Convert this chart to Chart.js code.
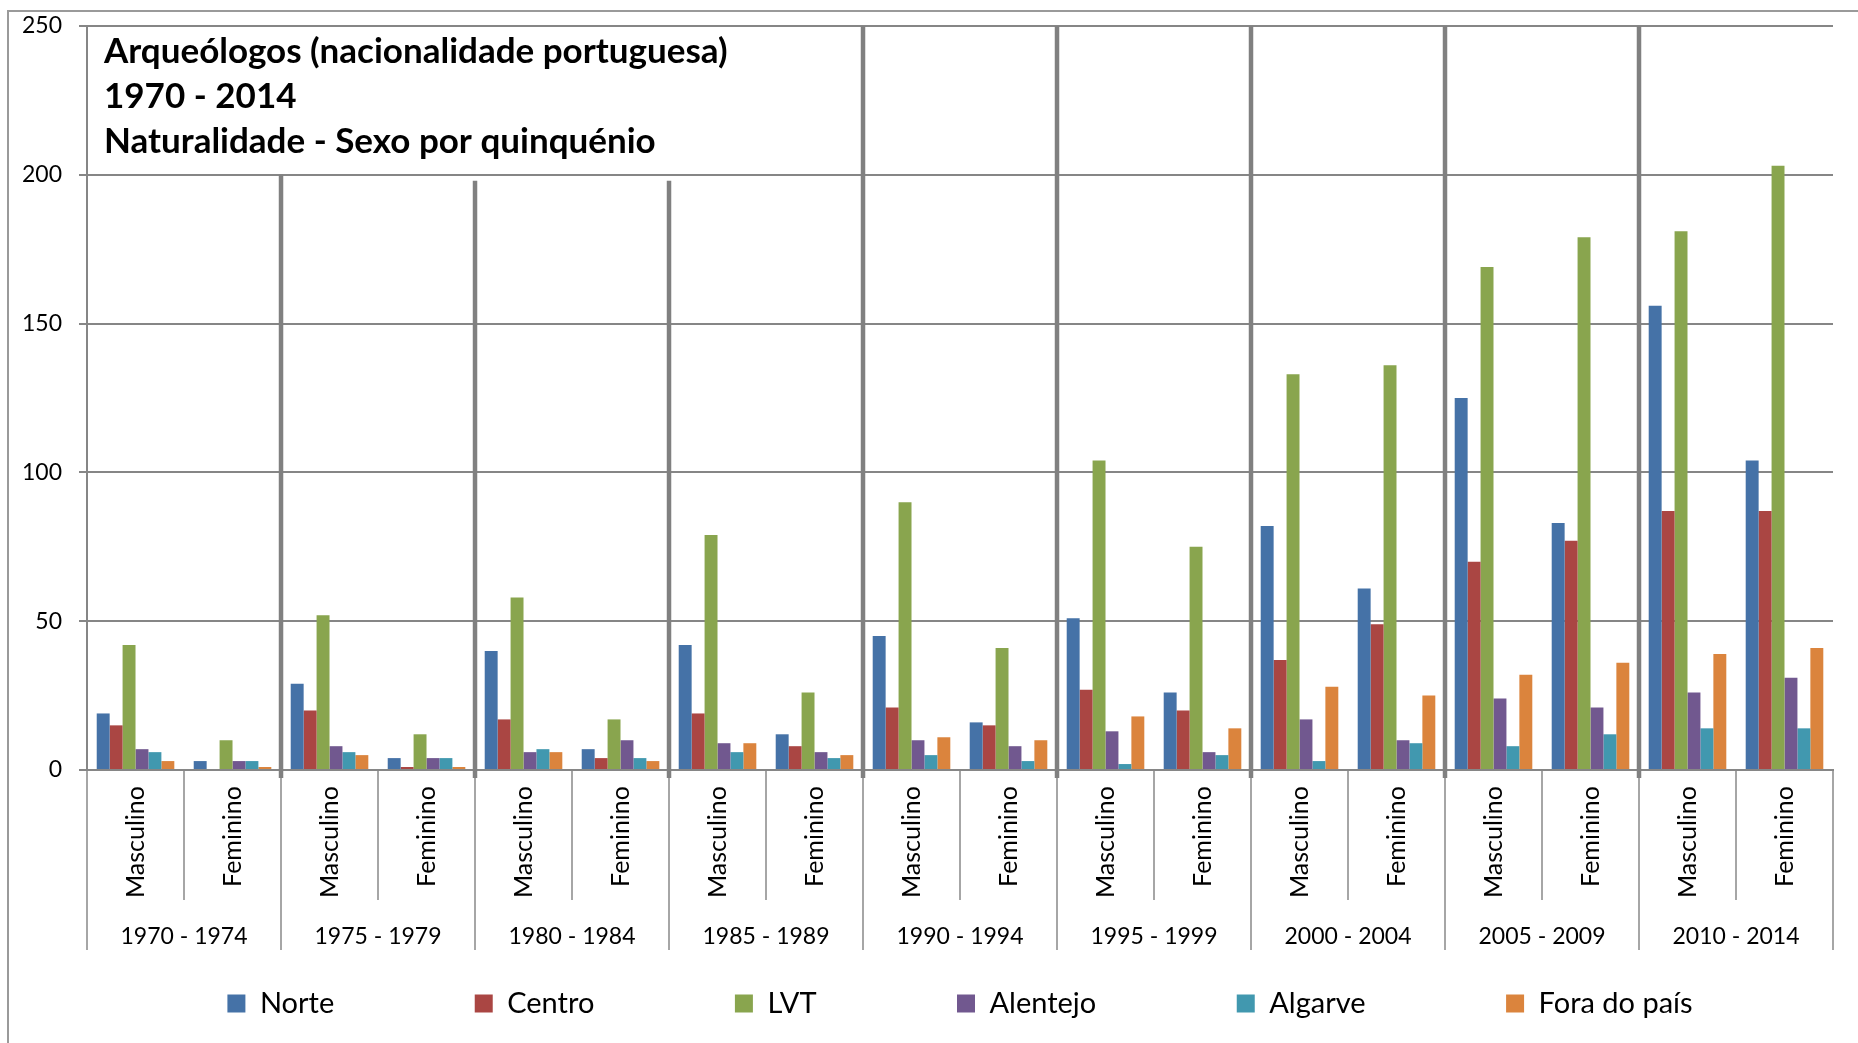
<!DOCTYPE html>
<html>
<head>
<meta charset="utf-8">
<script src="https://cdn.jsdelivr.net/npm/chart.js@4.4.1/dist/chart.umd.min.js"></script>
<style>
  html, body { margin: 0; padding: 0; background: #fff; overflow: hidden; }
  #frame { position: absolute; left: 7px; top: 10px; width: 2000px; height: 2000px;
           border-left: 2px solid #9a9a9a; border-top: 2px solid #9a9a9a; }
  #chart { position: absolute; left: 0; top: 0; }
</style>
</head>
<body>
<div id="frame"></div>
<canvas id="chart" width="1858" height="1043"></canvas>
<script>
// quinquénios e sexo
var periodos = ['1970 - 1974', '1975 - 1979', '1980 - 1984', '1985 - 1989', '1990 - 1994',
                '1995 - 1999', '2000 - 2004', '2005 - 2009', '2010 - 2014'];
var sexos = [];
for (var i = 0; i < periodos.length; i++) {
    sexos.push('Masculino');
    sexos.push('Feminino');
}

// valores por região (Masculino, Feminino de cada quinquénio)
var norte     = [19, 3, 29, 4, 40, 7, 42, 12, 45, 16, 51, 26, 82, 61, 125, 83, 156, 104];
var centro    = [15, 0, 20, 1, 17, 4, 19, 8, 21, 15, 27, 20, 37, 49, 70, 77, 87, 87];
var lvt       = [42, 10, 52, 12, 58, 17, 79, 26, 90, 41, 104, 75, 133, 136, 169, 179, 181, 203];
var alentejo  = [7, 3, 8, 4, 6, 10, 9, 6, 10, 8, 13, 6, 17, 10, 24, 21, 26, 31];
var algarve   = [6, 3, 6, 4, 7, 4, 6, 4, 5, 3, 2, 5, 3, 9, 8, 12, 14, 14];
var foraDoPais = [3, 1, 5, 1, 6, 3, 9, 5, 11, 10, 18, 14, 28, 25, 32, 36, 39, 41];

var yTicks = [0, 50, 100, 150, 200, 250];
var titulo = ['Arqueólogos (nacionalidade portuguesa)', '1970 - 2014', 'Naturalidade - Sexo por quinquénio'];
// até onde sobem as linhas que separam os quinquénios (valor no eixo)
var topoSeparadores = [200, 198, 198, 250, 250, 250, 250, 250];

var cinza = '#868686';

var decor = {
    id: 'decor',
    beforeDatasetsDraw: function (chart) {
        var ctx = chart.ctx, x = chart.scales.x, y = chart.scales.y;
        ctx.save();
        ctx.strokeStyle = '#808080';
        ctx.lineWidth = 4.5;
        for (var k = 1; k < periodos.length; k++) {
            var px = (x.getPixelForValue(2 * k - 1) + x.getPixelForValue(2 * k)) / 2;
            ctx.beginPath();
            ctx.moveTo(px, chart.chartArea.bottom + 8);
            ctx.lineTo(px, y.getPixelForValue(topoSeparadores[k - 1]));
            ctx.stroke();
        }
        ctx.restore();
    },
    afterDraw: function (chart) {
        var ctx = chart.ctx, area = chart.chartArea;
        ctx.save();
        ctx.fillStyle = '#000';
        ctx.font = 'bold 35px Lato';
        ctx.textBaseline = 'middle';
        for (var i = 0; i < titulo.length; i++) {
            ctx.fillText(titulo[i], area.left + 17, area.top + 26 + i * 45);
        }
        ctx.restore();
    }
};

function compileChart() {
    Chart.defaults.font.family = 'Lato';
    Chart.defaults.color = '#000';
    var regioes = [
        ['Norte', norte, '#4572A7'],
        ['Centro', centro, '#AA4643'],
        ['LVT', lvt, '#89A54E'],
        ['Alentejo', alentejo, '#71588F'],
        ['Algarve', algarve, '#4198AF'],
        ['Fora do país', foraDoPais, '#DB843D']
    ];
    var dataSets = regioes.map(function (r) {
        return {
            label: r[0], data: r[1], backgroundColor: r[2], borderWidth: 0,
            categoryPercentage: 0.8, barPercentage: 1.0
        };
    });
    new Chart(document.getElementById('chart'), {
        type: 'bar',
        data: { labels: sexos, datasets: dataSets },
        plugins: [decor],
        options: {
            responsive: false,
            animation: false,
            layout: { padding: { left: 5, right: 25, top: 26, bottom: 15 } },
            plugins: {
                tooltip: { enabled: false },
                legend: {
                    position: 'bottom',
                    fullSize: false,
                    labels: {
                        font: { size: 29 }, boxWidth: 18, boxHeight: 18, padding: 39, color: '#000',
                        generateLabels: function (chart) {
                            var items = Chart.defaults.plugins.legend.labels.generateLabels(chart);
                            items.forEach(function (it, i) {
                                if (i < items.length - 1) it.text += '\u2003\u2003\u2003\u2003\u2002';
                            });
                            return items;
                        }
                    }
                }
            },
            scales: {
                x: {
                    weight: 1,
                    grid: { drawOnChartArea: false, offset: true, color: '#a6a6a6', lineWidth: 2, tickLength: 130 },
                    border: { display: true, color: cinza, width: 2 },
                    ticks: { minRotation: 90, maxRotation: 90, autoSkip: false, padding: -114, font: { size: 25 } },
                    afterFit: function (s) { s.height = 130; }
                },
                x2: {
                    type: 'category',
                    labels: periodos,
                    position: 'bottom',
                    weight: 2,
                    offset: true,
                    grid: { drawOnChartArea: false, offset: true, color: '#a6a6a6', lineWidth: 2, tickLength: 50 },
                    border: { display: false },
                    ticks: { maxRotation: 0, autoSkip: false, padding: -27, font: { size: 23 } },
                    afterFit: function (s) { s.height = 50; }
                },
                y: {
                    min: 0, max: 250,
                    afterBuildTicks: function (s) { s.ticks = yTicks.map(function (v) { return { value: v }; }); },
                    afterFit: function (s) { s.paddingTop = 0; },
                    grid: { color: cinza, lineWidth: 2, tickLength: 8 },
                    border: { display: true, color: cinza, width: 2 },
                    ticks: { padding: 17, font: { size: 23 } }
                }
            }
        }
    });
}

document.fonts.load('23px Lato').then(compileChart, compileChart);
</script>
</body>
</html>
